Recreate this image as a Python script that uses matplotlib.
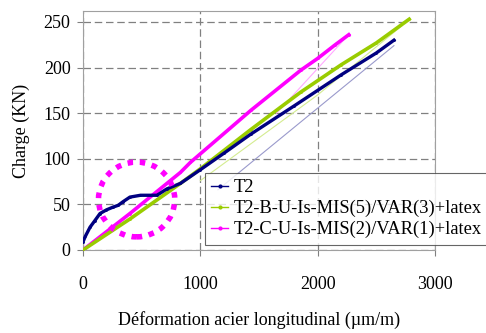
import matplotlib
matplotlib.use("Agg")
import matplotlib.pyplot as plt
from matplotlib.patches import Ellipse

plt.rcParams['font.family'] = ['Liberation Serif', 'DejaVu Serif']

# --- data (strain µm/m, load kN) ---
t2_x = [0, 20, 60, 100, 145, 200, 256, 300, 342, 400, 490, 630, 715, 830, 1000,
        1200, 1430, 1800, 2200, 2500, 2650]
t2_y = [9, 15, 25, 32, 40, 44, 47, 49, 53, 58, 60, 60, 67, 73, 88,
        106, 127, 158, 192, 216, 230]

b_x = [0, 400, 830, 1000, 1430, 1855, 2200, 2500, 2780]
b_y = [0, 34, 73, 89, 132, 173, 203, 227, 253]

c_x = [0, 400, 830, 915, 1430, 1855, 2000, 2150, 2265]
c_y = [0, 40, 85, 96, 153, 197, 210, 225, 236]

# faint secondary lines
t2f_x = [1150, 2650]
t2f_y = [66, 224]
bf_x = [1000, 2000, 2720]
bf_y = [76, 170, 246]
cf_x = [1650, 2250]
cf_y = [150, 234]

labels = ["T2", "T2-B-U-Is-MIS(5)/VAR(3)+latex", "T2-C-U-Is-MIS(2)/VAR(1)+latex"]
colors = ["#000080", "#99CC00", "#FF00FF"]

xticks = [0, 1000, 2000, 3000]
yticks = [0, 50, 100, 150, 200, 250]

# highlight ellipse (data units)
circ_center = (457, 55.4)
circ_w, circ_h = 650, 82

fig = plt.figure(figsize=(4.86, 3.33), dpi=100)
ax = fig.add_axes([83/486, 1-250/333, 352/486, 239/333])

ax.plot(t2f_x, t2f_y, color="#9A9ACC", lw=0.8, zorder=2)
ax.plot(bf_x, bf_y, color="#D4EC90", lw=0.8, zorder=2)
ax.plot(cf_x, cf_y, color="#FFA8FF", lw=0.8, zorder=2)

ax.plot(c_x, c_y, color=colors[2], lw=2.6, marker='.', markersize=2,
        label=labels[2], zorder=3)
ax.plot(b_x, b_y, color=colors[1], lw=2.6, marker='.', markersize=2,
        label=labels[1], zorder=4)
ax.plot(t2_x, t2_y, color=colors[0], lw=2.4, marker='.', markersize=2,
        label=labels[0], zorder=5)

ell = Ellipse(circ_center, circ_w, circ_h, fill=False, edgecolor="#FF00FF",
              lw=4.0, linestyle=(0, (1, 1.2)), zorder=6)
ax.add_patch(ell)

ax.set_xlim(0, 3000)
ax.set_ylim(0, 262)
ax.set_xticks(xticks)
ax.set_yticks(yticks)
ax.grid(True, color="#808080", linestyle=(0, (6, 3)), lw=0.9)
ax.set_axisbelow(True)
for s in ax.spines.values():
    s.set_color("#A0A0A0")
    s.set_linewidth(0.8)
ax.tick_params(axis='both', direction='out', length=4, color="#808080",
               labelsize=13)
ax.tick_params(axis='x', pad=15)
ax.tick_params(axis='y', pad=5)

ax.set_xlabel("Déformation acier longitudinal (µm/m)", fontsize=13)
ax.set_ylabel("Charge (KN)", fontsize=13)
ax.xaxis.label.set_verticalalignment('center')
ax.yaxis.label.set_verticalalignment('center')
ax.xaxis.set_label_coords(0.5, -(320-250)/239)
ax.yaxis.set_label_coords(-(83-21)/352, 0.5)

h, l = ax.get_legend_handles_labels()
order = [2, 1, 0]
leg = fig.legend([h[i] for i in order], [l[i] for i in order],
                 loc='upper left', bbox_to_anchor=(205/486, 1-173/333),
                 fontsize=13.3, frameon=True, fancybox=False, handlelength=0.9,
                 handletextpad=0.3, borderpad=0.35, labelspacing=0.2,
                 borderaxespad=0, markerscale=2)
leg.get_frame().set_edgecolor("#404040")
leg.get_frame().set_linewidth(0.8)
for line in leg.get_lines():
    line.set_linewidth(1.0)

fig.savefig("out.png", dpi=100)
